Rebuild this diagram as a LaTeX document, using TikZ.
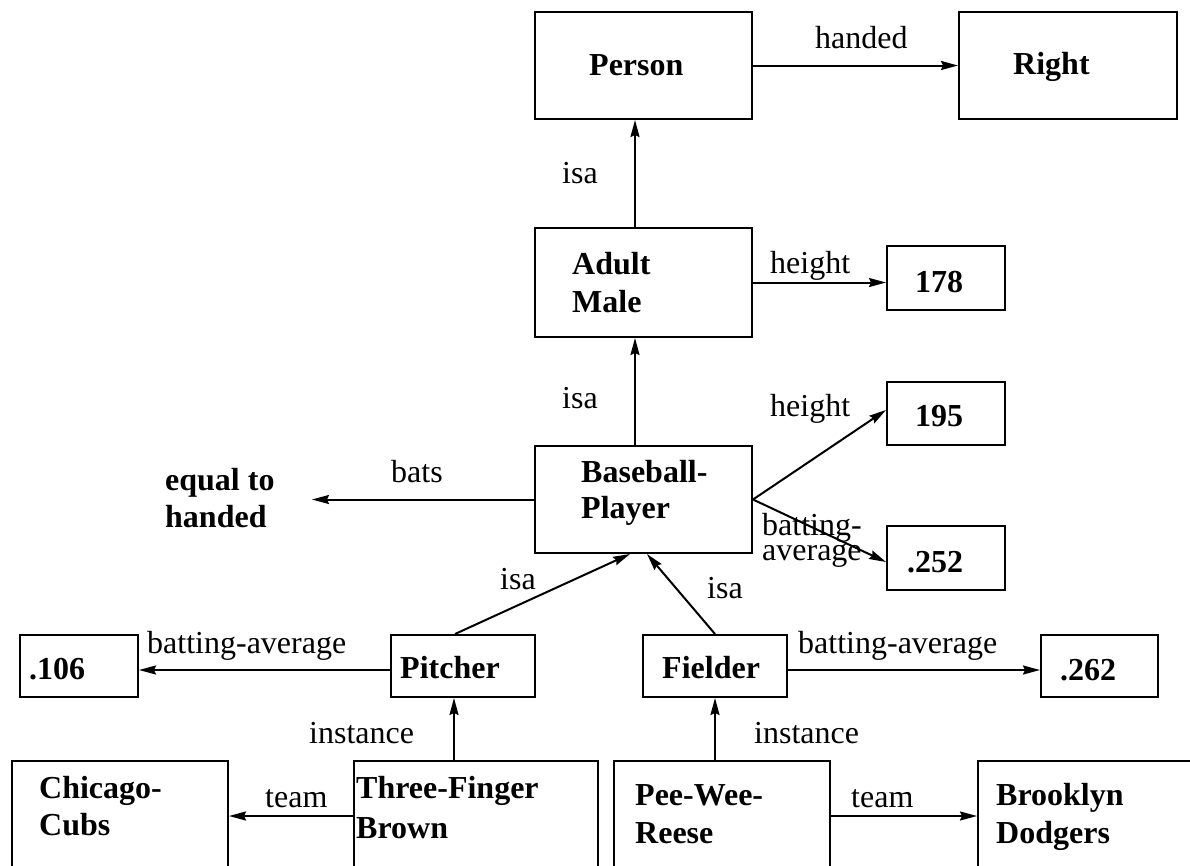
\documentclass[tikz,border=0pt]{standalone}
\usepackage{fontspec}
\setmainfont{Liberation Serif}
\usetikzlibrary{arrows.meta}
\begin{document}
\begin{tikzpicture}[x=1pt,y=-1pt,
  box/.style={draw, line width=2pt, inner sep=0pt},
  lbl/.style={inner sep=0pt, anchor=base west, font=\fontsize{32}{38}\selectfont},
  bl/.style={lbl, font=\fontsize{32}{38}\selectfont\bfseries},
  arr/.style={line width=2pt, -{Stealth[length=17pt,width=9pt,inset=2pt]}}]
\useasboundingbox (0,0) rectangle (1190,865);
\clip (0,0) rectangle (1190,865);
% boxes
\node[box, minimum width=217pt, minimum height=107pt] (person) at (643.5,65.5) {};
\node[box, minimum width=218pt, minimum height=107pt] (right) at (1068,65.5) {};
\node[box, minimum width=217pt, minimum height=109pt] (adult) at (643.5,282.5) {};
\node[box, minimum width=118pt, minimum height=64pt] (n178) at (946,278) {};
\node[box, minimum width=217pt, minimum height=107pt] (bp) at (643.5,499.5) {};
\node[box, minimum width=118pt, minimum height=63pt] (n195) at (946,413.5) {};
\node[box, minimum width=118pt, minimum height=64pt] (n252) at (946,558) {};
\node[box, minimum width=144pt, minimum height=62pt] (pitcher) at (463,666) {};
\node[box, minimum width=144pt, minimum height=62pt] (fielder) at (715,666) {};
\node[box, minimum width=118pt, minimum height=62pt] (n106) at (79,666) {};
\node[box, minimum width=117pt, minimum height=62pt] (n262) at (1099.5,666) {};
\node[box, minimum width=216pt, minimum height=139pt] (chicago) at (120,830.5) {};
\node[box, minimum width=244pt, minimum height=139pt] (tfb) at (476,830.5) {};
\node[box, minimum width=216pt, minimum height=139pt] (pwr) at (722,830.5) {};
\node[box, minimum width=222pt, minimum height=139pt] (brooklyn) at (1089,830.5) {};
% bold texts
\node[bl] (tperson) at (589,75) {Person};
\node[bl] (tright) at (1013,74) {Right};
\node[bl] (tadult) at (572,274) {Adult};
\node[bl] (tmale) at (572,312) {Male};
\node[bl] (t178) at (915,292) {178};
\node[bl] (t195) at (915,426) {195};
\node[bl] (t252) at (907,572) {.252};
\node[bl] (tbase) at (581,482) {Baseball-};
\node[bl] (tplayer) at (581,518) {Player};
\node[bl] (tequal) at (165,490) {equal to};
\node[bl] (thanded) at (165,527) {handed};
\node[bl] (tpitcher) at (400,678) {Pitcher};
\node[bl] (tfielder) at (662,678) {Fielder};
\node[bl] (t106) at (29,679) {.106};
\node[bl] (t262) at (1060,680) {.262};
\node[bl] (tchicago) at (39,798) {Chicago-};
\node[bl] (tcubs) at (39,835) {Cubs};
\node[bl] (tthree) at (356,798) {Three-Finger};
\node[bl] (tbrown) at (356,838) {Brown};
\node[bl] (tpee) at (635,805) {Pee-Wee-};
\node[bl] (treese) at (635,843) {Reese};
\node[bl] (tbrook) at (996,805) {Brooklyn};
\node[bl] (tdodg) at (996,843) {Dodgers};
% labels
\node[lbl] (lhanded) at (815,48) {handed};
\node[lbl] (lisa1) at (562,183) {isa};
\node[lbl] (lheight1) at (770,273) {height};
\node[lbl] (lisa2) at (562,408) {isa};
\node[lbl] (lheight2) at (770,416) {height};
\node[lbl] (lba1) at (762,535) {batting-};
\node[lbl] (lba2) at (762,560) {average};
\node[lbl] (lbats) at (391,482) {bats};
\node[lbl] (lisa3) at (500,589) {isa};
\node[lbl] (lisa4) at (707,598) {isa};
\node[lbl] (lbal) at (147,653) {batting-average};
\node[lbl] (lbar) at (798,653) {batting-average};
\node[lbl] (linstl) at (309,743) {instance};
\node[lbl] (linstr) at (754,743) {instance};
\node[lbl] (lteaml) at (265,807) {team};
\node[lbl] (lteamr) at (851,807) {team};
% connectors
\coordinate (eq) at (312,499.5);
\coordinate (tl) at (354,816);
\coordinate (tr) at (830,816);
\draw[arr] (person.east) -- (right.west);
\draw[arr] ([xshift=-8.5pt]adult.north) -- ([xshift=-8.5pt]person.south);
\draw[arr] (adult.east) -- (adult.east -| n178.west);
\draw[arr] ([xshift=-8.5pt]bp.north) -- ([xshift=-8.5pt]adult.south);
\draw[arr] (bp.east) -- ([yshift=3.5pt]n195.west);
\draw[arr] (bp.east) -- ([yshift=-4pt]n252.west);
\draw[arr] (bp.west) -- (eq);
\draw[arr] ([xshift=-8pt]pitcher.north) -- ([xshift=-13.5pt]bp.south);
\draw[arr] (fielder.north) -- ([xshift=3.5pt]bp.south);
\draw[arr] ([yshift=-4pt]pitcher.west) -- ([yshift=-4pt]n106.east);
\draw[arr] ([yshift=-4pt]fielder.east) -- ([yshift=-4pt]n262.west);
\draw[arr] ([xshift=-9pt]pitcher.south |- tfb.north) -- ([xshift=-9pt]pitcher.south);
\draw[arr] (fielder.south |- pwr.north) -- (fielder.south);
\draw[arr] (tl) -- (tl -| chicago.east);
\draw[arr] (tr) -- (tr -| brooklyn.west);
\end{tikzpicture}
\end{document}
